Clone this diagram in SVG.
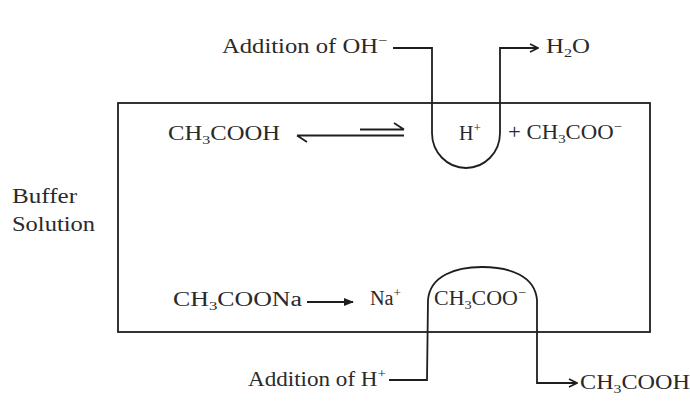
<svg xmlns="http://www.w3.org/2000/svg" width="690" height="403" viewBox="0 0 690 403">
<style>
.t{font-family:"Liberation Serif","Times New Roman",serif;font-size:20px;fill:#2a2a2a}
.ln{fill:none;stroke:#1e1e1e;stroke-width:1.8}
</style>
<defs>
<marker id="chev" viewBox="0 0 10 10" refX="9" refY="5" markerWidth="10" markerHeight="10" markerUnits="userSpaceOnUse" orient="auto">
<path d="M1,1 L9,5 L1,9" fill="none" stroke="#1e1e1e" stroke-width="1.6"/>
</marker>
<marker id="solid" viewBox="0 0 10 10" refX="9" refY="5" markerWidth="10" markerHeight="10" markerUnits="userSpaceOnUse" orient="auto">
<path d="M0,1 L10,5 L0,9 Z" fill="#1e1e1e"/>
</marker>
</defs>
<rect x="0" y="0" width="690" height="403" fill="#ffffff"/>
<g id="buffer-box">
<rect x="118" y="103" width="532" height="229" class="ln"/>
</g>
<g id="label-buffer">
<text class="t" x="12" y="203" textLength="65" lengthAdjust="spacingAndGlyphs">Buffer</text>
<text class="t" x="12" y="231" textLength="83" lengthAdjust="spacingAndGlyphs">Solution</text>
</g>
<g id="node-acetic-acid">
<text class="t" x="168" y="140" textLength="112" lengthAdjust="spacingAndGlyphs">CH<tspan font-size="13" dy="4">3</tspan><tspan dy="-4">COOH</tspan></text>
</g>
<g id="node-h-plus">
<text class="t" x="459" y="140">H<tspan font-size="13" dy="-8">+</tspan></text>
</g>
<g id="node-acetate-top">
<text class="t" x="508" y="139" textLength="114" lengthAdjust="spacingAndGlyphs">+ CH<tspan font-size="13" dy="4">3</tspan><tspan dy="-4">COO</tspan><tspan font-size="13" dy="-8">−</tspan></text>
</g>
<g id="node-add-oh">
<text class="t" x="222" y="53" textLength="165" lengthAdjust="spacingAndGlyphs">Addition of OH<tspan font-size="13" dy="-8">−</tspan></text>
</g>
<g id="node-water">
<text class="t" x="546" y="53" textLength="44" lengthAdjust="spacingAndGlyphs">H<tspan font-size="13" dy="4">2</tspan><tspan dy="-4">O</tspan></text>
</g>
<g id="node-sodium-acetate">
<text class="t" x="173" y="306" textLength="129" lengthAdjust="spacingAndGlyphs">CH<tspan font-size="13" dy="4">3</tspan><tspan dy="-4">COONa</tspan></text>
</g>
<g id="node-na-plus">
<text class="t" x="370" y="305" textLength="31" lengthAdjust="spacingAndGlyphs">Na<tspan font-size="13" dy="-8">+</tspan></text>
</g>
<g id="node-acetate-bottom">
<text class="t" x="434" y="305" textLength="92" lengthAdjust="spacingAndGlyphs">CH<tspan font-size="13" dy="4">3</tspan><tspan dy="-4">COO</tspan><tspan font-size="13" dy="-8">−</tspan></text>
</g>
<g id="node-add-h">
<text class="t" x="248" y="386" textLength="138" lengthAdjust="spacingAndGlyphs">Addition of H<tspan font-size="13" dy="-8">+</tspan></text>
</g>
<g id="node-acetic-acid-out">
<text class="t" x="580" y="389" textLength="110" lengthAdjust="spacingAndGlyphs">CH<tspan font-size="13" dy="4">3</tspan><tspan dy="-4">COOH</tspan></text>
</g>
<g id="connectors">
<path class="ln" d="M393,48 L432,48 L432,133 A34,35 0 0 0 500,133 L500,48 L538,48" marker-end="url(#chev)"/>
<path class="ln" d="M360,129.5 L404,129.5 M404,129.5 L394,123"/>
<path class="ln" d="M404,135.5 L297,135.5 M297,135.5 L307,142"/>
<path class="ln" d="M307,302 L353,302" marker-end="url(#solid)"/>
<path class="ln" d="M389,380 L427,380 L428,300 C430,276 455,267 482,267 C510,267 535,276 537,300 L537,383 L577,383" marker-end="url(#chev)"/>
</g>
</svg>
